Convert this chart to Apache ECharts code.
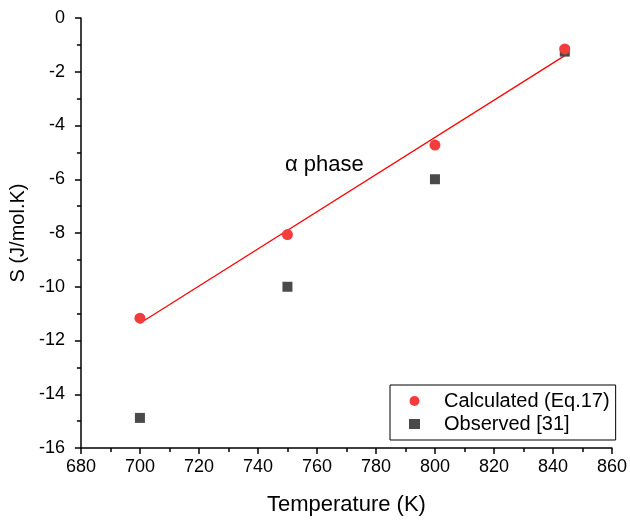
<!DOCTYPE html>
<html>
<head>
<meta charset="utf-8">
<script src="https://cdn.jsdelivr.net/npm/echarts@6/dist/echarts.min.js"></script>
<style>
  html, body { margin: 0; padding: 0; background: #fff; }
  #chart { width: 630px; height: 521px; }
</style>
</head>
<body>
<div id="chart"></div>
<script>
// Entropy of the alpha phase versus temperature
const temperatures = [700, 750, 800, 844];
const calculatedS = [-11.17, -8.06, -4.73, -1.15];
const observedS = [-14.88, -10.0, -6.0, -1.25];
// Linear fit of the calculated values, at its two ends
const fitT = [700, 844];
const fitS = [-11.36, -1.40];
const xTicks = { min: 680, max: 860, step: 20 };
const yTicks = { min: -16, max: 0, step: 2 };

const font = 'Liberation Sans, Arial, sans-serif';
const chart = echarts.init(document.getElementById('chart'), null, { renderer: 'canvas' });

const axisCommon = {
  axisLine: { show: true, onZero: false, lineStyle: { color: '#000', width: 1.5 } },
  axisTick: { show: true, inside: false, length: 6, lineStyle: { color: '#000', width: 1.5 } },
  minorTick: { show: true, splitNumber: 2, length: 4, lineStyle: { color: '#000', width: 1.5 } },
  splitLine: { show: false },
  axisLabel: { color: '#000', fontSize: 18, fontFamily: font }
};

chart.setOption({
  animation: false,
  backgroundColor: '#fff',
  grid: { left: 78, right: 13, top: 18, bottom: 69, containLabel: false },
  xAxis: Object.assign({}, axisCommon, {
    type: 'value',
    min: xTicks.min, max: xTicks.max, interval: xTicks.step,
    name: 'Temperature (K)',
    nameLocation: 'middle', nameGap: 46,
    nameTextStyle: { color: '#000', fontSize: 22, fontFamily: font },
    axisLabel: Object.assign({}, axisCommon.axisLabel, { margin: 10 })
  }),
  yAxis: Object.assign({}, axisCommon, {
    type: 'value',
    min: yTicks.min, max: yTicks.max, interval: yTicks.step,
    name: 'S (J/mol.K)',
    nameLocation: 'middle', nameGap: 46,
    nameTextStyle: { color: '#000', fontSize: 20, fontFamily: font },
    axisLabel: Object.assign({}, axisCommon.axisLabel, { margin: 16 })
  }),
  legend: {
    orient: 'vertical',
    left: 390, top: 385,
    data: [
      { name: 'Calculated (Eq.17)', icon: 'circle' },
      { name: 'Observed [31]', icon: 'rect' }
    ],
    borderColor: '#000', borderWidth: 1,
    padding: [6, 6, 6, 19],
    itemGap: 3,
    itemWidth: 11, itemHeight: 10,
    textStyle: { color: '#000', fontSize: 20, fontFamily: font, padding: [0, 0, 0, 19] }
  },
  graphic: [{
    type: 'text',
    left: 285, top: 154,
    style: { text: '\u03b1 phase', fill: '#000', fontSize: 22, fontFamily: font }
  }],
  series: [
    {
      name: 'fit',
      type: 'line',
      data: fitT.map((t, i) => [t, fitS[i]]),
      showSymbol: false,
      lineStyle: { color: '#ff0000', width: 1.2 },
      silent: true,
      z: 1
    },
    {
      name: 'Observed [31]',
      type: 'scatter',
      symbol: 'rect',
      symbolSize: 10,
      itemStyle: { color: '#4a4a4a', opacity: 1 },
      data: temperatures.map((t, i) => [t, observedS[i]]),
      z: 2
    },
    {
      name: 'Calculated (Eq.17)',
      type: 'scatter',
      symbol: 'circle',
      symbolSize: 11,
      itemStyle: { color: '#f23d3d', opacity: 1 },
      data: temperatures.map((t, i) => [t, calculatedS[i]]),
      z: 3
    }
  ]
});
</script>
</body>
</html>
